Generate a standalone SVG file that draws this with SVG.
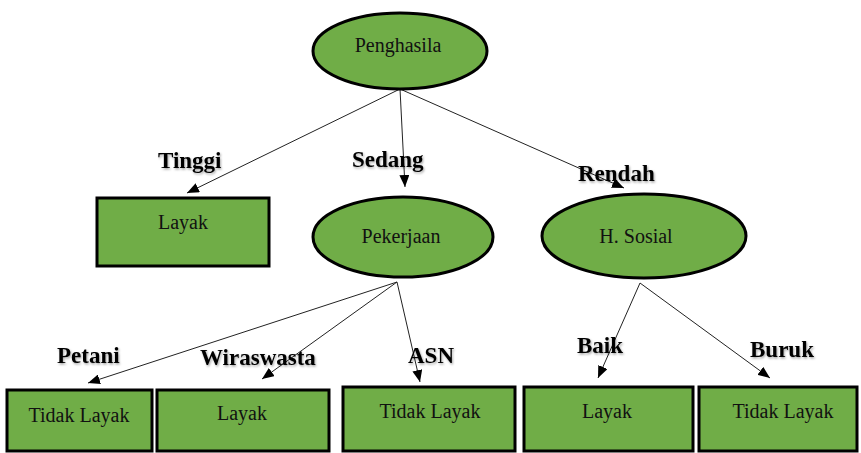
<svg xmlns="http://www.w3.org/2000/svg" width="861" height="453" viewBox="0 0 861 453">
  <style>
    .node { fill: #70ad47; stroke: #000; stroke-width: 3; }
    .ntext { font-family: "Liberation Serif", "Times New Roman", serif; font-size: 20px; fill: #111; text-anchor: middle; }
    .label { font-family: "Liberation Serif", "Times New Roman", serif; font-size: 23px; font-weight: bold; fill: #000; filter: url(#shadow); }
    .edge { stroke: #222; stroke-width: 1; fill: none; marker-end: url(#arrow); }
  </style>
  <defs>
    <marker id="arrow" viewBox="0 0 12 10" refX="12" refY="5" markerWidth="12" markerHeight="10" markerUnits="userSpaceOnUse" orient="auto">
      <path d="M0,0 L12,5 L0,10 z" fill="#000"/>
    </marker>
    <filter id="shadow" x="-10%" y="-20%" width="130%" height="150%">
      <feDropShadow dx="1" dy="1.5" stdDeviation="1" flood-color="#000" flood-opacity="0.35"/>
    </filter>
  </defs>

  <!-- connectors -->
  <g id="edges">
    <line class="edge" x1="400" y1="89" x2="187" y2="193"/>
    <line class="edge" x1="400" y1="89" x2="405" y2="187"/>
    <line class="edge" x1="400" y1="89" x2="624" y2="188"/>
    <line class="edge" x1="397" y1="282" x2="88" y2="383"/>
    <line class="edge" x1="397" y1="282" x2="262" y2="379"/>
    <line class="edge" x1="397" y1="282" x2="420" y2="382"/>
    <line class="edge" x1="640" y1="283" x2="598" y2="378"/>
    <line class="edge" x1="640" y1="283" x2="770" y2="378"/>
  </g>

  <!-- edge labels -->
  <g id="labels">
    <text class="label" x="158" y="168">Tinggi</text>
    <text class="label" x="352" y="167">Sedang</text>
    <text class="label" x="578" y="181">Rendah</text>
    <text class="label" x="57" y="363">Petani</text>
    <text class="label" x="200" y="365">Wiraswasta</text>
    <text class="label" x="408" y="363">ASN</text>
    <text class="label" x="577" y="353">Baik</text>
    <text class="label" x="750" y="357">Buruk</text>
  </g>

  <g id="penghasila">
    <ellipse class="node" cx="400" cy="51" rx="87" ry="38"/>
    <text class="ntext" x="398" y="52">Penghasila</text>
  </g>

  <g id="tinggi-layak">
    <rect class="node" x="97" y="198" width="172" height="68"/>
    <text class="ntext" x="183" y="229">Layak</text>
  </g>

  <g id="pekerjaan">
    <ellipse class="node" cx="403" cy="237" rx="90" ry="40"/>
    <text class="ntext" x="401" y="243">Pekerjaan</text>
  </g>

  <g id="h-sosial">
    <ellipse class="node" cx="644" cy="236" rx="102" ry="42"/>
    <text class="ntext" x="636" y="243">H. Sosial</text>
  </g>

  <g id="petani-tidak-layak">
    <rect class="node" x="7" y="390" width="145" height="61"/>
    <text class="ntext" x="79" y="422">Tidak Layak</text>
  </g>

  <g id="wiraswasta-layak">
    <rect class="node" x="157" y="390" width="172" height="61"/>
    <text class="ntext" x="242" y="420">Layak</text>
  </g>

  <g id="asn-tidak-layak">
    <rect class="node" x="343" y="387" width="172" height="64"/>
    <text class="ntext" x="430" y="418">Tidak Layak</text>
  </g>

  <g id="baik-layak">
    <rect class="node" x="524" y="387" width="169" height="64"/>
    <text class="ntext" x="607" y="418">Layak</text>
  </g>

  <g id="buruk-tidak-layak">
    <rect class="node" x="699" y="387" width="158" height="64"/>
    <text class="ntext" x="783" y="418">Tidak Layak</text>
  </g>
</svg>
